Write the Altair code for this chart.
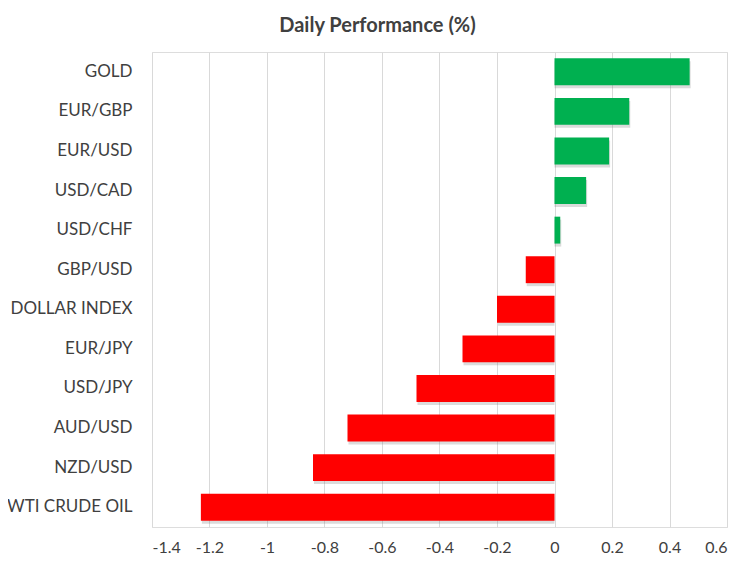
import altair as alt
import pandas as pd

categories = ["GOLD", "EUR/GBP", "EUR/USD", "USD/CAD", "USD/CHF", "GBP/USD",
              "DOLLAR INDEX", "EUR/JPY", "USD/JPY", "AUD/USD", "NZD/USD", "WTI CRUDE OIL"]
values = [0.47, 0.26, 0.19, 0.11, 0.02, -0.10, -0.20, -0.32, -0.48, -0.72, -0.84, -1.23]
tick_values = [-1.4, -1.2, -1.0, -0.8, -0.6, -0.4, -0.2, 0.0, 0.2, 0.4, 0.6]

df = pd.DataFrame({"asset": categories, "value": values})
df["dir"] = ["up" if v >= 0 else "down" for v in values]

FONT = "Lato"

x_enc = alt.X("value:Q",
              scale=alt.Scale(domain=[-1.4, 0.6], nice=False, zero=False),
              axis=alt.Axis(values=tick_values, title=None, domain=False, ticks=False,
                            grid=True, gridColor="#D9D9D9", gridWidth=1,
                            labelFont=FONT, labelFontSize=16, labelColor="#404040",
                            labelPadding=12,
                            labelExpr="replace(format(datum.value, '.1~f'), '\u2212', '-')"))
y_enc = alt.Y("asset:N", sort=categories,
              scale=alt.Scale(paddingInner=0.32, paddingOuter=0.16),
              axis=alt.Axis(title=None, domain=False, ticks=False, grid=False,
                            labelFont=FONT, labelFontSize=17, labelColor="#404040",
                            labelPadding=20, labelLimit=200))

shadow = alt.Chart(df).mark_bar(color="#7F7F7F", opacity=0.28, yOffset=3, xOffset=1).encode(
    x=x_enc, x2=alt.datum(0), y=y_enc)

bars = alt.Chart(df).mark_bar().encode(
    x=x_enc, x2=alt.datum(0), y=y_enc,
    color=alt.Color("dir:N", scale=alt.Scale(domain=["up", "down"], range=["#00B050", "#FF0000"]),
                    legend=None))

chart = alt.layer(shadow, bars).properties(
    width=575, height=475,
    autosize=alt.AutoSizeParams(type="none"),
    padding={"left": 144, "top": 44, "right": 18, "bottom": 33},
    title=alt.TitleParams("Daily Performance (%)", font=FONT, fontSize=20, fontWeight="bold",
                          color="#404040", anchor="middle", dx=-62, offset=16),
).configure_view(stroke=None).configure(background="white")

chart.save("out.html", embed_options={"renderer": "svg", "actions": False})
